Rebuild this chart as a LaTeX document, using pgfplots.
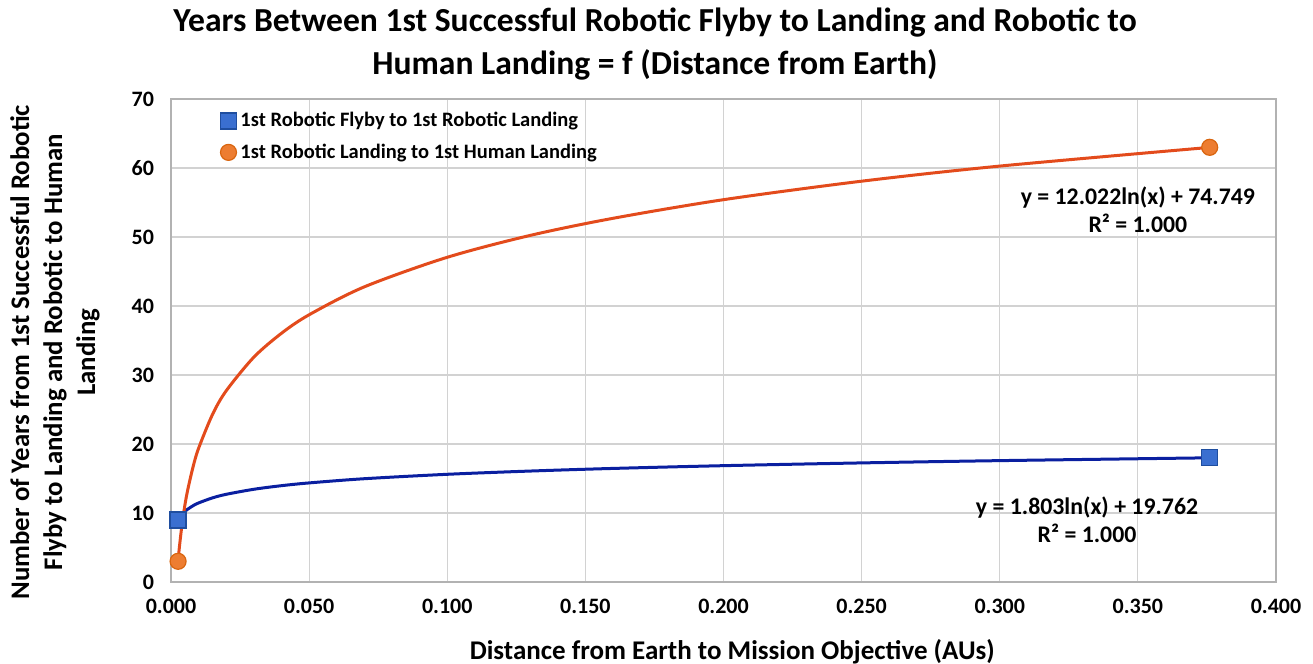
\documentclass[border=0pt]{standalone}
\usepackage{fontspec}
\setmainfont{Carlito}
\usepackage{pgfplots}
\pgfplotsset{compat=1.18}
\definecolor{bluefill}{HTML}{3A6FD0}
\definecolor{blueedge}{HTML}{1F4E9F}
\definecolor{blueline}{HTML}{0A1FA0}
\definecolor{orangefill}{HTML}{ED7D31}
\definecolor{orangeedge}{HTML}{D9650F}
\definecolor{orangeline}{HTML}{E34B1C}
\begin{document}
\begin{tikzpicture}[font=\bfseries]
\path[use as bounding box] (-85.5pt,-41pt) rectangle (571pt,291pt);
\begin{axis}[
  at={(0,0)}, anchor=south west,
  width=552.5pt, height=241.5pt, scale only axis,
  xmin=0, xmax=0.4, ymin=0, ymax=70,
  clip=false,
  xtick={0,0.05,0.1,0.15,0.2,0.25,0.3,0.35,0.4},
  ytick={0,10,20,30,40,50,60,70},
  scaled x ticks=false,
  /pgf/number format/assume math mode=true,
  x tick label style={/pgf/number format/.cd, fixed, fixed zerofill, precision=3, /tikz/.cd, yshift=-5pt},
  y tick label style={xshift=-5pt},
  tick label style={font=\fontsize{11}{13}\selectfont\bfseries},
  grid=major,
  major grid style={draw=gray!35, line width=0.6pt},
  axis line style={draw=gray!60, line width=0.8pt},
  tick style={draw=none},
  legend style={at={(rel axis cs:0.039,0.99)}, anchor=north west, draw=none, fill=none,
    font=\fontsize{10.25}{12}\selectfont\bfseries, row sep=3pt},
  legend cell align=left,
]
\addplot[blueline, line width=1.5pt, smooth, forget plot] coordinates {
(0.00257,9.01) (0.003,9.29) (0.004,9.81) (0.005,10.21) (0.006,10.54) (0.008,11.06) (0.01,11.46)
(0.015,12.19) (0.02,12.71) (0.03,13.44) (0.04,13.96) (0.05,14.36) (0.07,14.97)
(0.1,15.61) (0.13,16.08) (0.16,16.46) (0.2,16.86) (0.25,17.26) (0.3,17.59) (0.376,18.00)};
\addplot[only marks, mark=square*, mark size=4pt, mark options={fill=bluefill, draw=blueedge, line width=0.6pt}]
coordinates {(0.00257,9) (0.376,18)};
\addplot[orangeline, line width=1.5pt, smooth, forget plot] coordinates {
(0.00257,3.05) (0.003,4.91) (0.004,8.38) (0.005,11.06) (0.006,13.25) (0.008,16.71) (0.01,19.39)
(0.015,24.26) (0.02,27.72) (0.03,32.59) (0.04,36.05) (0.05,38.73) (0.07,42.78)
(0.1,47.06) (0.13,50.23) (0.16,52.71) (0.2,55.41) (0.25,58.09) (0.3,60.28) (0.376,62.99)};
\addplot[only marks, mark=*, mark size=4pt, mark options={fill=orangefill, draw=orangeedge, line width=0.6pt}]
coordinates {(0.00257,3) (0.376,63)};
\legend{1st Robotic Flyby to 1st Robotic Landing, 1st Robotic Landing to 1st Human Landing}
\node[align=center, font=\fontsize{11.9}{14}\selectfont\bfseries] at (axis cs:0.350,53.9)
  {y = 12.022ln(x) + 74.749\\R² = 1.000};
\node[align=center, font=\fontsize{11.9}{14}\selectfont\bfseries] at (axis cs:0.3316,9.0)
  {y = 1.803ln(x) + 19.762\\R² = 1.000};
\node[align=center, font=\fontsize{16.8}{21.5}\selectfont\bfseries] at (rel axis cs:0.438,1.114)
  {Years Between 1st Successful Robotic Flyby to Landing and Robotic to\\Human Landing = f (Distance from Earth)};
\node[font=\fontsize{13.5}{15}\selectfont\bfseries] at (rel axis cs:0.508,-0.145)
  {Distance from Earth to Mission Objective (AUs)};
\node[rotate=90, align=center, font=\fontsize{13.4}{16.5}\selectfont\bfseries] at (rel axis cs:-0.105,0.476)
  {Number of Years from 1st Successful Robotic\\Flyby to Landing and Robotic to Human\\Landing};
\end{axis}
\end{tikzpicture}
\end{document}
